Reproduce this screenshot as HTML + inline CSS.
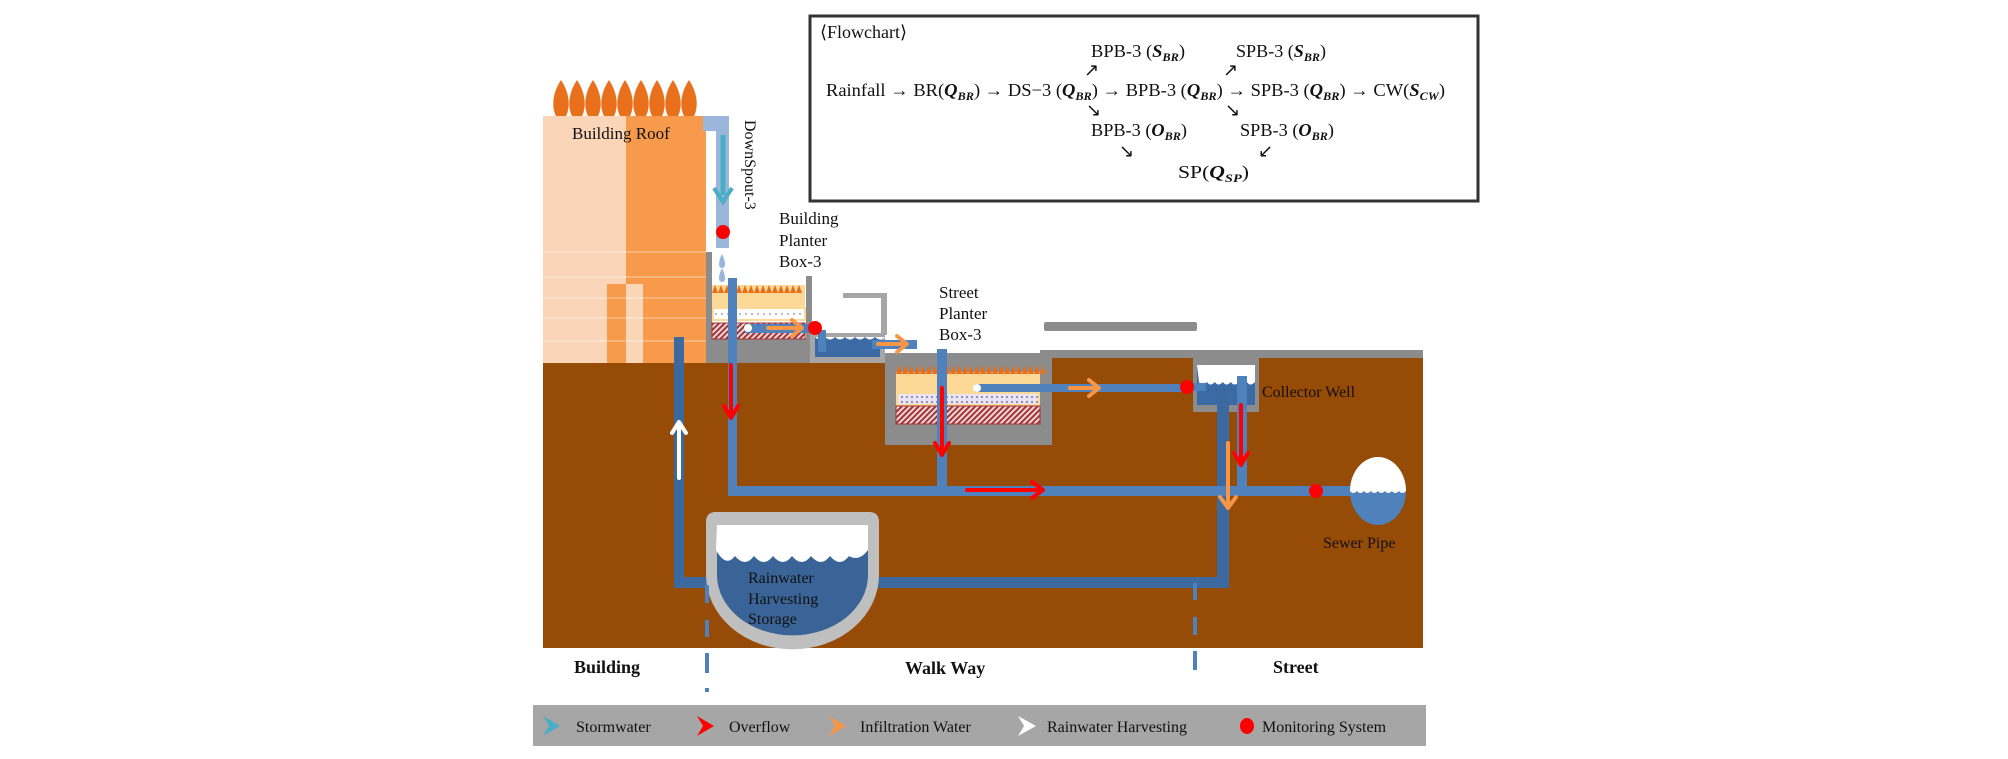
<!DOCTYPE html>
<html><head><meta charset="utf-8"><style>
html,body{margin:0;padding:0;background:#fff;}
svg{display:block;}
text{font-family:"Liberation Serif",serif;fill:#111;}
</style></head><body>
<svg width="2008" height="759" viewBox="0 0 2008 759" xmlns="http://www.w3.org/2000/svg">
<defs>
<pattern id="dots" width="6" height="6" patternUnits="userSpaceOnUse"><rect width="6" height="6" fill="#fff"/><circle cx="2" cy="2" r="0.9" fill="#8a8ab0"/></pattern>
<pattern id="dots2" width="5" height="5" patternUnits="userSpaceOnUse"><rect width="5" height="5" fill="#e8e4f2"/><circle cx="2" cy="2" r="1" fill="#7a74a8"/></pattern>
<pattern id="hatch" width="4" height="4" patternUnits="userSpaceOnUse" patternTransform="rotate(45)"><rect width="4" height="4" fill="#f2d6d6"/><rect width="2" height="4" fill="#a0363a"/></pattern>
</defs>

<!-- Flowchart box -->
<rect x="810" y="16" width="668" height="185" fill="#fff" stroke="#333" stroke-width="3"/>
<g font-size="18">
<text x="820" y="38">⟨Flowchart⟩</text>
<text x="1091" y="57" textLength="94" lengthAdjust="spacingAndGlyphs">BPB-3 (<tspan font-style="italic" font-weight="bold">S</tspan><tspan font-size="12" dy="4" font-style="italic" font-weight="bold">BR</tspan><tspan dy="-4">)</tspan></text>
<text x="1236" y="57" textLength="90" lengthAdjust="spacingAndGlyphs">SPB-3 (<tspan font-style="italic" font-weight="bold">S</tspan><tspan font-size="12" dy="4" font-style="italic" font-weight="bold">BR</tspan><tspan dy="-4">)</tspan></text>
<text x="1084" y="76">↗</text><text x="1223" y="76">↗</text>
<text x="826" y="96" textLength="619" lengthAdjust="spacingAndGlyphs">Rainfall → BR(<tspan font-style="italic" font-weight="bold">Q</tspan><tspan font-size="12" dy="4" font-style="italic" font-weight="bold">BR</tspan><tspan dy="-4">) → DS−3 (</tspan><tspan font-style="italic" font-weight="bold">Q</tspan><tspan font-size="12" dy="4" font-style="italic" font-weight="bold">BR</tspan><tspan dy="-4">) → BPB-3 (</tspan><tspan font-style="italic" font-weight="bold">Q</tspan><tspan font-size="12" dy="4" font-style="italic" font-weight="bold">BR</tspan><tspan dy="-4">) → SPB-3 (</tspan><tspan font-style="italic" font-weight="bold">Q</tspan><tspan font-size="12" dy="4" font-style="italic" font-weight="bold">BR</tspan><tspan dy="-4">) → CW(</tspan><tspan font-style="italic" font-weight="bold">S</tspan><tspan font-size="12" dy="4" font-style="italic" font-weight="bold">CW</tspan><tspan dy="-4">)</tspan></text>
<text x="1086" y="116">↘</text><text x="1225" y="116">↘</text>
<text x="1091" y="136" textLength="96" lengthAdjust="spacingAndGlyphs">BPB-3 (<tspan font-style="italic" font-weight="bold">O</tspan><tspan font-size="12" dy="4" font-style="italic" font-weight="bold">BR</tspan><tspan dy="-4">)</tspan></text>
<text x="1240" y="136" textLength="94" lengthAdjust="spacingAndGlyphs">SPB-3 (<tspan font-style="italic" font-weight="bold">O</tspan><tspan font-size="12" dy="4" font-style="italic" font-weight="bold">BR</tspan><tspan dy="-4">)</tspan></text>
<text x="1119" y="157">↘</text><text x="1258" y="157">↙</text>
<text x="1178" y="178" textLength="71" lengthAdjust="spacingAndGlyphs">SP(<tspan font-style="italic" font-weight="bold">Q</tspan><tspan font-size="12" dy="4" font-style="italic" font-weight="bold">SP</tspan><tspan dy="-4">)</tspan></text>
</g>

<!-- Building -->
<rect x="543" y="116" width="83" height="247" fill="#fbd5b8"/>
<rect x="626" y="116" width="80" height="247" fill="#f79a4c"/>
<rect x="607" y="284" width="19" height="79" fill="#f79a4c"/>
<rect x="626" y="284" width="17" height="79" fill="#fbd5b8"/>
<g stroke="#fff" stroke-opacity="0.5" stroke-width="1">
<line x1="543" y1="252" x2="706" y2="252"/><line x1="543" y1="277" x2="706" y2="277"/><line x1="543" y1="298" x2="706" y2="298"/><line x1="543" y1="318" x2="706" y2="318"/><line x1="543" y1="341" x2="706" y2="341"/>
</g>
<!-- flames -->
<g fill="#e8701a">
<path d="M561 80 C553 92 551 106 556 116 L566 116 C571 106 569 92 561 80Z"/>
<path d="M577 80 C569 92 567 106 572 116 L582 116 C587 106 585 92 577 80Z"/>
<path d="M593 80 C585 92 583 106 588 116 L598 116 C603 106 601 92 593 80Z"/>
<path d="M609 80 C601 92 599 106 604 116 L614 116 C619 106 617 92 609 80Z"/>
<path d="M625 80 C617 92 615 106 620 116 L630 116 C635 106 633 92 625 80Z"/>
<path d="M641 80 C633 92 631 106 636 116 L646 116 C651 106 649 92 641 80Z"/>
<path d="M657 80 C649 92 647 106 652 116 L662 116 C667 106 665 92 657 80Z"/>
<path d="M673 80 C665 92 663 106 668 116 L678 116 C683 106 681 92 673 80Z"/>
<path d="M689 80 C681 92 679 106 684 116 L694 116 C699 106 697 92 689 80Z"/>
</g>
<text x="572" y="139" font-size="17">Building Roof</text>

<!-- Downspout -->
<path d="M703 116 H729 V248 H716 V131 H703Z" fill="#9ab6db"/>
<line x1="723" y1="135" x2="723" y2="195" stroke="#4bacc6" stroke-width="5"/>
<path d="M714 188 L723 202 L732 188" fill="none" stroke="#4bacc6" stroke-width="4"/>
<circle cx="723" cy="232" r="7" fill="#f00"/>
<path d="M722 254 C718 262 718 268 722 268 C726 268 726 262 722 254Z M722 268 C718 276 718 282 722 282 C726 282 726 276 722 268Z" fill="#9ab6db"/>
<text transform="translate(745,120) rotate(90)" font-size="16">DownSpout-3</text>
<text font-size="17"><tspan x="779" y="224">Building</tspan><tspan x="779" y="246">Planter</tspan><tspan x="779" y="267">Box-3</tspan></text>

<!-- Ground -->
<rect x="543" y="363" width="880" height="285" fill="#964b06"/>
<!-- building planter -->
<rect x="706" y="252" width="6" height="111" fill="#8c8c8c"/>
<rect x="706" y="338" width="104" height="25" fill="#8c8c8c"/>
<rect x="806" y="276" width="6" height="87" fill="#8c8c8c"/>
<rect x="712" y="285" width="93" height="23" fill="#fcd996"/>
<g fill="#e8701a"><path d="M712 293 l3 -8 l3 8 l3 -8 l3 8 l3 -8 l3 8 l3 -8 l3 8 l3 -8 l3 8 l3 -8 l3 8 l3 -8 l3 8 l3 -8 l3 8 l3 -8 l3 8 l3 -8 l3 8 l3 -8 l3 8 l3 -8 l3 8 l3 -8 l3 8 l3 -8 l3 8 l3 -8 l3 8z"/></g>
<rect x="713" y="308" width="92" height="12" fill="url(#dots)" stroke="#fcd996" stroke-width="2"/>
<rect x="712" y="323" width="93" height="16" fill="url(#hatch)" stroke="#a0363a" stroke-width="1"/>
<!-- small tank -->
<rect x="810" y="333" width="75" height="30" fill="#a6a6a6"/>
<rect x="815" y="337" width="65" height="20" fill="#3b6aa5"/>
<path d="M815 337 q5 5 10 0 q5 5 10 0 q5 5 10 0 q5 5 10 0 q5 5 10 0 q5 5 10 0 q5 5 10 0Z" fill="#fff"/>
<path d="M843 293 H887 V335 H881 V298 H843Z" fill="#a6a6a6"/>
<rect x="818" y="330" width="8" height="22" fill="#4f81bd"/>
<rect x="745" y="324" width="72" height="9" fill="#4f81bd"/>
<circle cx="748" cy="328" r="4" fill="#fff"/>
<rect x="872" y="340" width="45" height="9" fill="#4f81bd"/>
<!-- street planter -->
<rect x="885" y="353" width="167" height="92" fill="#8c8c8c"/>
<rect x="1040" y="350" width="383" height="8" fill="#8c8c8c"/>
<rect x="1052" y="358" width="371" height="5" fill="#964b06"/>
<rect x="896" y="372" width="144" height="22" fill="#fcd996"/>
<g fill="#e8701a"><path d="M896 374 l3 -9 l3 9 l3 -9 l3 9 l3 -9 l3 9 l3 -9 l3 9 l3 -9 l3 9 l3 -9 l3 9 l3 -9 l3 9 l3 -9 l3 9 l3 -9 l3 9 l3 -9 l3 9 l3 -9 l3 9 l3 -9 l3 9 l3 -9 l3 9 l3 -9 l3 9 l3 -9 l3 9 l3 -9 l3 9 l3 -9 l3 9 l3 -9 l3 9 l3 -9 l3 9 l3 -9 l3 9 l3 -9 l3 9 l3 -9 l3 9 l3 -9 l3 9 l3 -9 l3 9 l3 -9 l3 9z"/></g>
<rect x="897" y="393" width="142" height="12" fill="url(#dots2)" stroke="#fcd996" stroke-width="2"/>
<rect x="896" y="406" width="144" height="18" fill="url(#hatch)" stroke="#a0363a" stroke-width="1"/>
<rect x="1044" y="322" width="153" height="9" rx="2" fill="#8c8c8c"/>
<text font-size="17"><tspan x="939" y="298">Street</tspan><tspan x="939" y="319">Planter</tspan><tspan x="939" y="340">Box-3</tspan></text>
<!-- collector well -->
<rect x="1193" y="352" width="66" height="60" fill="#8c8c8c"/>
<rect x="1197" y="365" width="58" height="40" fill="#3b6aa5"/>
<path d="M1197 365 H1255 V382 q-5 5 -8 0 q-5 5 -8 0 q-5 5 -8 0 q-5 5 -8 0 q-5 5 -8 0 q-5 5 -8 0 q-5 5 -8 0 Z" fill="#fff"/>
<text x="1262" y="397" font-size="16">Collector Well</text>

<!-- dark harvesting pipe -->
<path d="M674 337 H684 V577 H1217 V395 H1229 V588 H674Z" fill="#3c6aa0"/>
<!-- stormwater pipes -->
<rect x="728" y="278" width="9" height="218" fill="#4f81bd"/>
<rect x="728" y="486" width="627" height="10" fill="#4f81bd"/>
<rect x="937" y="349" width="10" height="140" fill="#4f81bd"/>
<rect x="975" y="384" width="215" height="8" fill="#4f81bd"/>
<circle cx="977" cy="388" r="4" fill="#fff"/>
<rect x="1188" y="383" width="18" height="8" fill="#4f81bd"/>
<rect x="1237" y="376" width="10" height="115" fill="#4f81bd"/>

<!-- sewer pipe -->
<ellipse cx="1378" cy="491" rx="28" ry="34" fill="#4f81bd"/>
<path d="M1350 491 A28 34 0 0 1 1406 491 q-4 4 -7 0 q-4 4 -7 0 q-4 4 -7 0 q-4 4 -7 0 q-4 4 -7 0 q-4 4 -7 0 q-4 4 -7 0 q-4 4 -7 0Z" fill="#fff"/>
<text x="1323" y="548" font-size="16">Sewer Pipe</text>

<!-- storage -->
<path d="M706 522 Q706 512 716 512 H869 Q879 512 879 522 V575 A86 74 0 0 1 706 575Z" fill="#bfbfbf"/>
<path d="M717 525 H868 V575 A75 60 0 0 1 717 575Z" fill="#3a6497"/>
<path d="M717 525 H868 V550 q-9 12 -19 6 q-9 12 -19 0 q-9 12 -19 0 q-9 12 -19 0 q-9 12 -19 0 q-9 12 -19 0 q-9 12 -19 0 q-9 12 -19 -6Z" fill="#fff"/>
<text font-size="16"><tspan x="748" y="583">Rainwater</tspan><tspan x="748" y="604">Harvesting</tspan><tspan x="748" y="624">Storage</tspan></text>

<!-- dashed -->
<g stroke="#4f81bd" stroke-width="4">
<line x1="707" y1="585" x2="707" y2="603"/><line x1="707" y1="620" x2="707" y2="637"/><line x1="707" y1="653" x2="707" y2="673"/><line x1="707" y1="688" x2="707" y2="692"/>
<line x1="1195" y1="583" x2="1195" y2="600"/><line x1="1195" y1="617" x2="1195" y2="635"/><line x1="1195" y1="651" x2="1195" y2="670"/>
</g>

<!-- arrows -->
<g fill="none" stroke-width="4" stroke-linecap="round" stroke-linejoin="round">
<g stroke="#f79646">
<line x1="768" y1="328" x2="800" y2="328"/><path d="M792 320 L802 328 L792 336"/>
<line x1="878" y1="344" x2="905" y2="344"/><path d="M897 336 L907 344 L897 352"/>
<line x1="1070" y1="388" x2="1097" y2="388"/><path d="M1089 380 L1099 388 L1089 396"/>
<line x1="1228" y1="443" x2="1228" y2="505"/><path d="M1220 497 L1228 508 L1236 497"/>
</g>
<g stroke="#f00">
<line x1="731" y1="365" x2="731" y2="415"/><path d="M724 406 L731 418 L738 406"/>
<line x1="942" y1="388" x2="942" y2="452"/><path d="M935 443 L942 455 L949 443"/>
<line x1="967" y1="490" x2="1040" y2="490"/><path d="M1032 482 L1043 490 L1032 498"/>
<line x1="1241" y1="405" x2="1241" y2="463"/><path d="M1234 453 L1241 465 L1248 453"/>
</g>
<g stroke="#fff">
<line x1="679" y1="425" x2="679" y2="478"/><path d="M672 433 L679 422 L686 433"/>
</g>
</g>
<g fill="#f00"><circle cx="815" cy="328" r="7"/><circle cx="1187" cy="387" r="7"/><circle cx="1316" cy="491" r="7"/></g>

<!-- zone labels -->
<g font-size="18" font-weight="bold"><text x="574" y="673">Building</text><text x="905" y="674">Walk Way</text><text x="1273" y="673">Street</text></g>

<!-- legend -->
<rect x="533" y="705" width="893" height="41" fill="#a6a6a6"/>
<g font-size="16">
<path d="M543 716 L560 726 L543 736 L549 726Z" fill="#4bacc6"/><text x="576" y="732">Stormwater</text>
<path d="M697 716 L714 726 L697 736 L703 726Z" fill="#f00"/><text x="729" y="732">Overflow</text>
<path d="M829 716 L846 726 L829 736 L835 726Z" fill="#f79646"/><text x="860" y="732">Infiltration Water</text>
<path d="M1018 716 L1036 726 L1018 736 L1024 726Z" fill="#fff"/><text x="1047" y="732">Rainwater Harvesting</text>
<ellipse cx="1247" cy="726" rx="7" ry="8" fill="#f00"/><text x="1262" y="732">Monitoring System</text>
</g>
</svg>
</body></html>
